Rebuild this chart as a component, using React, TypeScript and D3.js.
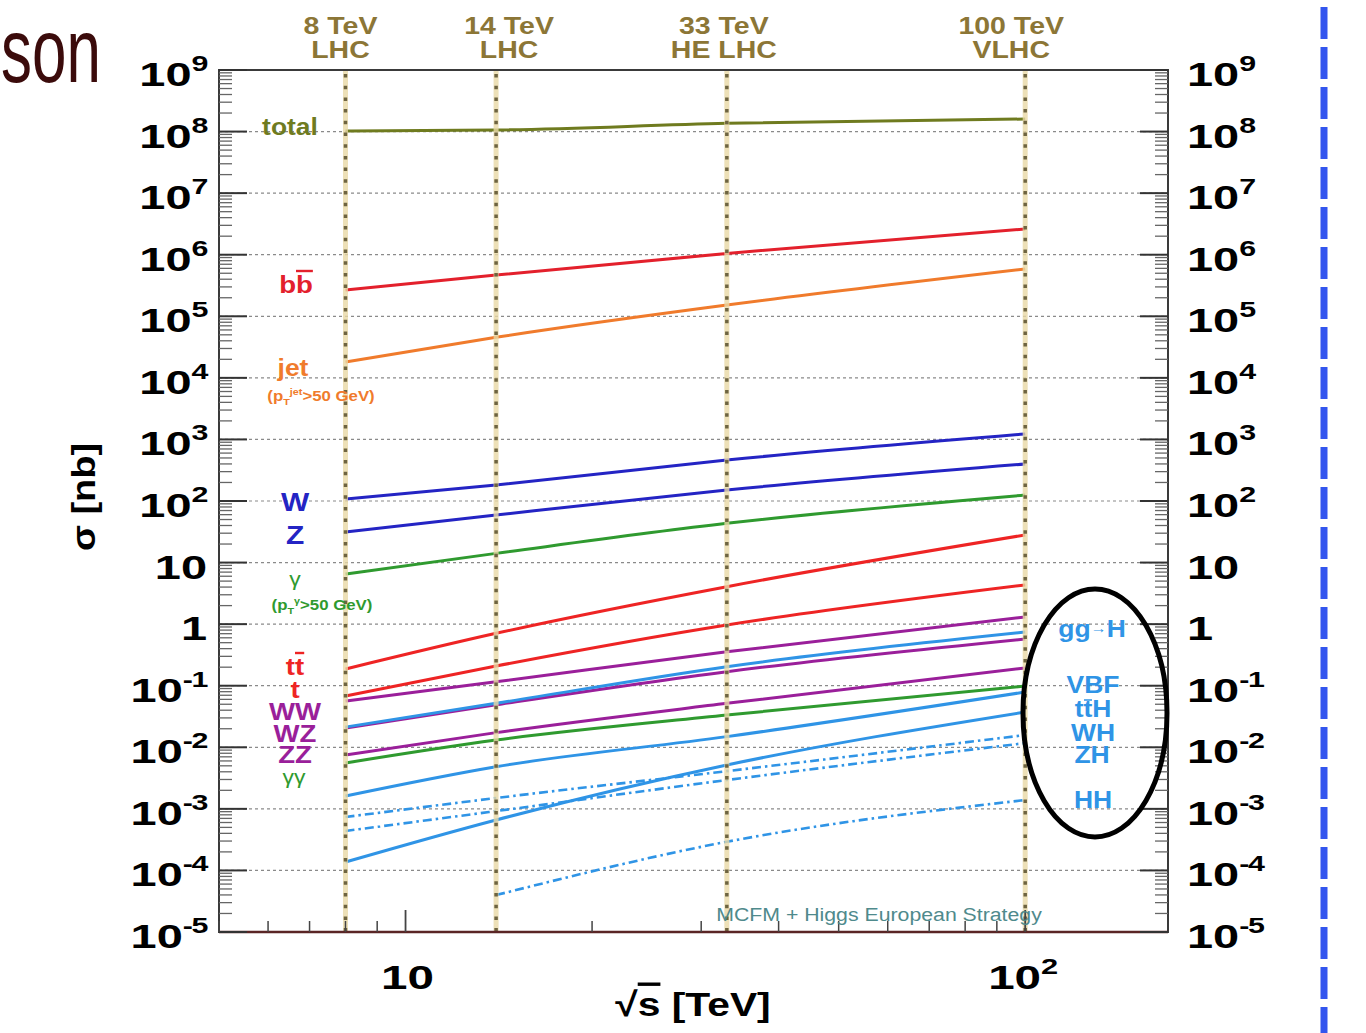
import React from "react";
import * as d3 from "d3";

// ---- data (sigma in nb at sqrt(s) = 8, 14, 33, 100 TeV) ----
const energies = [8, 14, 33, 100];
const hhEnergies = [14, 33, 100];
const energyTop = ["8 TeV", "14 TeV", "33 TeV", "100 TeV"];
const energyBottom = ["LHC", "LHC", "HE LHC", "VLHC"];

const total = [1.02e8, 1.06e8, 1.36e8, 1.6e8];
const bbbar = [2.67e5, 4.68e5, 1.05e6, 2.62e6];
const jet = [1.81e4, 4.55e4, 1.52e5, 5.86e5];
const W = [108, 182, 463, 1225];
const Z = [31.3, 59.3, 151, 399];
const gamma = [6.52, 14.1, 43.4, 125];
const ttbar = [0.187, 0.71, 4.06, 28.1];
const singleTop = [0.068, 0.209, 0.968, 4.33];
const WW = [0.0565, 0.116, 0.356, 1.31];
const WZ = [0.0206, 0.049, 0.169, 0.574];
const ZZ = [0.00748, 0.0173, 0.0518, 0.194];
const gammaGamma = [0.00556, 0.0131, 0.0334, 0.0989];
const ggH = [0.0213, 0.0518, 0.204, 0.745];
const VBF = [0.00162, 0.00484, 0.0149, 0.079];
const ttH = [1.37e-4, 6.6e-4, 5.15e-3, 0.0374];
const WH = [7.36e-4, 1.5e-3, 4.1e-3, 0.0158];
const ZH = [4.37e-4, 9.2e-4, 2.94e-3, 0.0117];
const HH = [3.98e-5, 2.92e-4, 1.39e-3];

const yExponents = d3.range(-5, 10);
const xMajorTicks = [10, 100];

const COL = {
  total: "#6f7b1f",
  bb: "#e3202c",
  jet: "#f07b2c",
  ew: "#2424c4",
  green: "#2f9a2f",
  top: "#ee2424",
  dib: "#9a1f9a",
  higgs: "#2f94e6",
  energy: "#8c7636",
};

const FONT = "'Liberation Sans', Arial, Helvetica, sans-serif";
const DASHDOT = "9,4,2.5,4";
const TOP_LABEL_DX = [-5, 13, -3, -14];

type Series = { name: string; e: number[]; v: number[]; color: string; dash?: string; w?: number };

const series: Series[] = [
  { name: "total", e: energies, v: total, color: COL.total },
  { name: "bb", e: energies, v: bbbar, color: COL.bb },
  { name: "jet", e: energies, v: jet, color: COL.jet },
  { name: "W", e: energies, v: W, color: COL.ew },
  { name: "Z", e: energies, v: Z, color: COL.ew },
  { name: "gamma", e: energies, v: gamma, color: COL.green },
  { name: "ttbar", e: energies, v: ttbar, color: COL.top },
  { name: "t", e: energies, v: singleTop, color: COL.top },
  { name: "WW", e: energies, v: WW, color: COL.dib },
  { name: "ZZ", e: energies, v: ZZ, color: COL.dib },
  { name: "gg", e: energies, v: gammaGamma, color: COL.green },
  { name: "WZ", e: energies, v: WZ, color: COL.dib },
  { name: "ggH", e: energies, v: ggH, color: COL.higgs },
  { name: "VBF", e: energies, v: VBF, color: COL.higgs },
  { name: "ttH", e: energies, v: ttH, color: COL.higgs },
  { name: "WH", e: energies, v: WH, color: COL.higgs, dash: DASHDOT, w: 2.6 },
  { name: "ZH", e: energies, v: ZH, color: COL.higgs, dash: DASHDOT, w: 2.6 },
  { name: "HH", e: hhEnergies, v: HH, color: COL.higgs, dash: DASHDOT, w: 2.6 },
];

const L = 219, R = 1168, TOP = 70, BOT = 932;

function T(props: any) {
  const { x, y, sx = 1.15, sy = 1, size = 22, anchor = "middle", fill = "#000", weight = "bold", children, rotate = 0 } = props;
  return (
    <text
      transform={`translate(${x},${y}) rotate(${rotate}) scale(${sx},${sy})`}
      textAnchor={anchor}
      fontSize={size}
      fontWeight={weight}
      fill={fill}
      fontFamily={FONT}
    >
      {children}
    </text>
  );
}

function expLabel(k: number) {
  if (k === 0) return "1";
  if (k === 1) return "10";
  return (
    <>
      10<tspan dy={-15} fontSize={22} letterSpacing={-1}>{k}</tspan>
    </>
  );
}

export default function App() {
  const x = d3.scaleLog().domain([5, 170]).range([L, R]);
  const y = d3.scaleLog().domain([1e-5, 1e9]).range([BOT, TOP]);

  const line = (s: Series) =>
    d3
      .line<number>()
      .x((_, i) => x(s.e[i]))
      .y((d) => y(d))
      .curve(d3.curveMonotoneX)(s.v) as string;

  const yMinor: number[] = [];
  for (let k = -5; k < 9; k++) for (let m = 2; m <= 9; m++) yMinor.push(m * Math.pow(10, k));
  const xMinor: number[] = [];
  for (let k = 0; k < 3; k++)
    for (let m = 1; m <= 9; m++) {
      const v = m * Math.pow(10, k);
      if (v >= 5 && v <= 170 && v !== 10 && v !== 100) xMinor.push(v);
    }

  return (
    <svg
      width={1366}
      height={1033}
      style={{ position: "absolute", left: 0, top: 0, background: "#fff" }}
      fontFamily={FONT}
    >
      <rect x={0} y={0} width={1366} height={1033} fill="#fff" />
      {/* slide title fragment */}
      <text transform="translate(1,82) scale(0.86,1.25)" textAnchor="start" fontSize={72} fill="#3b0b0b" fontFamily={FONT}>
        son
      </text>

      {/* grid lines */}
      {yExponents
        .filter((k) => k > -5 && k < 9)
        .map((k) => (
          <line
            key={"g" + k}
            x1={L}
            x2={R}
            y1={y(Math.pow(10, k))}
            y2={y(Math.pow(10, k))}
            stroke="#8a8a8a"
            strokeWidth={1.2}
            strokeDasharray="3,3"
          />
        ))}

      {/* curves */}
      {series.map((s) => (
        <path
          key={s.name}
          d={line(s)}
          fill="none"
          stroke={s.color}
          strokeWidth={s.w ?? 3}
          strokeDasharray={s.dash}
        />
      ))}

      {/* energy lines */}
      {energies.map((e, i) => (
        <g key={"e" + e}>
          <line x1={x(e)} x2={x(e)} y1={TOP} y2={BOT} stroke="#e9d9a6" strokeWidth={5} opacity={0.8} />
          <line
            x1={x(e)}
            x2={x(e)}
            y1={TOP + 4}
            y2={BOT}
            stroke="#6e6440"
            strokeWidth={3.5}
            strokeDasharray="3.5,8.2"
          />
          <T x={x(e) + TOP_LABEL_DX[i]} y={34} size={23} sx={1.24} fill={COL.energy}>
            {energyTop[i]}
          </T>
          <T x={x(e) + TOP_LABEL_DX[i]} y={58} size={23} sx={1.24} fill={COL.energy}>
            {energyBottom[i]}
          </T>
        </g>
      ))}

      {/* frame */}
      <rect x={L} y={TOP} width={R - L} height={BOT - TOP} fill="none" stroke="#3a3a3a" strokeWidth={2} />
      <line x1={L} x2={R} y1={BOT} y2={BOT} stroke="#5a2525" strokeWidth={2.5} />

      {/* y ticks left & right */}
      {yExponents.map((k) => {
        const yy = y(Math.pow(10, k));
        return (
          <g key={"yt" + k}>
            <line x1={L} x2={L + 28} y1={yy} y2={yy} stroke="#333" strokeWidth={2} />
            <line x1={R} x2={R - 28} y1={yy} y2={yy} stroke="#333" strokeWidth={2} />
            <T x={207} y={yy + 16} size={34} sx={1.38} anchor="end">
              {expLabel(k)}
            </T>
            <T x={1187} y={yy + 16} size={34} sx={1.38} anchor="start">
              {expLabel(k)}
            </T>
          </g>
        );
      })}
      {yMinor.map((v, i) => (
        <g key={"ym" + i}>
          <line x1={L} x2={L + 13} y1={y(v)} y2={y(v)} stroke="#666" strokeWidth={1.3} />
          <line x1={R} x2={R - 13} y1={y(v)} y2={y(v)} stroke="#666" strokeWidth={1.3} />
        </g>
      ))}

      {/* x ticks */}
      {xMinor.map((v) => (
        <line key={"xm" + v} x1={x(v)} x2={x(v)} y1={BOT} y2={BOT - 11} stroke="#444" strokeWidth={1.5} />
      ))}
      {xMajorTicks.map((v) => (
        <line key={"xM" + v} x1={x(v)} x2={x(v)} y1={BOT} y2={BOT - 22} stroke="#444" strokeWidth={1.8} />
      ))}
      <T x={x(10) + 2} y={989} size={34} sx={1.4}>10</T>
      <T x={x(100) - 2} y={989} size={34} sx={1.4}>
        10<tspan dy={-15} fontSize={22}>2</tspan>
      </T>

      {/* axis titles */}
      <T x={693} y={1016} size={34} sx={1.2}>
        √<tspan style={{ textDecoration: "overline" }}>s</tspan> [TeV]
      </T>
      <T x={95} y={497} size={33} sx={1.15} rotate={-90}>
        σ [nb]
      </T>

      {/* curve labels */}
      <T x={290} y={135} size={23} fill={COL.total}>total</T>
      <T x={296} y={293} size={24} fill={COL.bb}>
        b<tspan style={{ textDecoration: "overline" }}>b</tspan>
      </T>
      <T x={293} y={376} size={23} fill={COL.jet}>jet</T>
      <T x={321} y={401} size={14} sx={1.2} fill={COL.jet}>
        (p<tspan dy={4} fontSize={9}>T</tspan>
        <tspan dy={-10} fontSize={9}>jet</tspan>
        <tspan dy={6}>&gt;50 GeV)</tspan>
      </T>
      <T x={295} y={511} size={26} fill={COL.ew}>W</T>
      <T x={295} y={544} size={26} fill={COL.ew}>Z</T>
      <T x={295} y={586} size={20} weight="normal" fill={COL.green}>γ</T>
      <T x={322} y={610} size={14} sx={1.2} fill={COL.green}>
        (p<tspan dy={4} fontSize={9}>T</tspan>
        <tspan dy={-10} fontSize={9}>γ</tspan>
        <tspan dy={6}>&gt;50 GeV)</tspan>
      </T>
      <T x={295} y={675} size={24} fill={COL.top}>
        t<tspan style={{ textDecoration: "overline" }}>t</tspan>
      </T>
      <T x={295} y={698} size={24} fill={COL.top}>t</T>
      <T x={295} y={720} size={24} fill={COL.dib}>WW</T>
      <T x={295} y={742} size={24} fill={COL.dib}>WZ</T>
      <T x={295} y={763} size={24} fill={COL.dib}>ZZ</T>
      <T x={294} y={784} size={20} weight="normal" fill={COL.green}>γγ</T>

      {/* Higgs labels */}
      <T x={1092} y={637} size={23} fill={COL.higgs}>
        gg<tspan fontSize={14} dy={-4}>→</tspan>
        <tspan dy={4}>H</tspan>
      </T>
      <T x={1093} y={693} size={23} fill={COL.higgs}>VBF</T>
      <T x={1093} y={717} size={23} fill={COL.higgs}>ttH</T>
      <line x1={1084} x2={1092} y1={700} y2={700} stroke={COL.higgs} strokeWidth={1.5} />
      <T x={1093} y={741} size={23} fill={COL.higgs}>WH</T>
      <T x={1092} y={763} size={23} fill={COL.higgs}>ZH</T>
      <T x={1093} y={808} size={23} fill={COL.higgs}>HH</T>
      <ellipse cx={1095} cy={713} rx={72} ry={124} fill="none" stroke="#000" strokeWidth={5} />

      <T x={879} y={921} size={19} sx={1.12} weight="normal" fill="#4f8a8c" anchor="middle">
        MCFM + Higgs European Strategy
      </T>

      {/* slide dashed separator */}
      <line x1={1324} x2={1324} y1={7} y2={1033} stroke="#3355ee" strokeWidth={7} strokeDasharray="32,8" />
    </svg>
  );
}
